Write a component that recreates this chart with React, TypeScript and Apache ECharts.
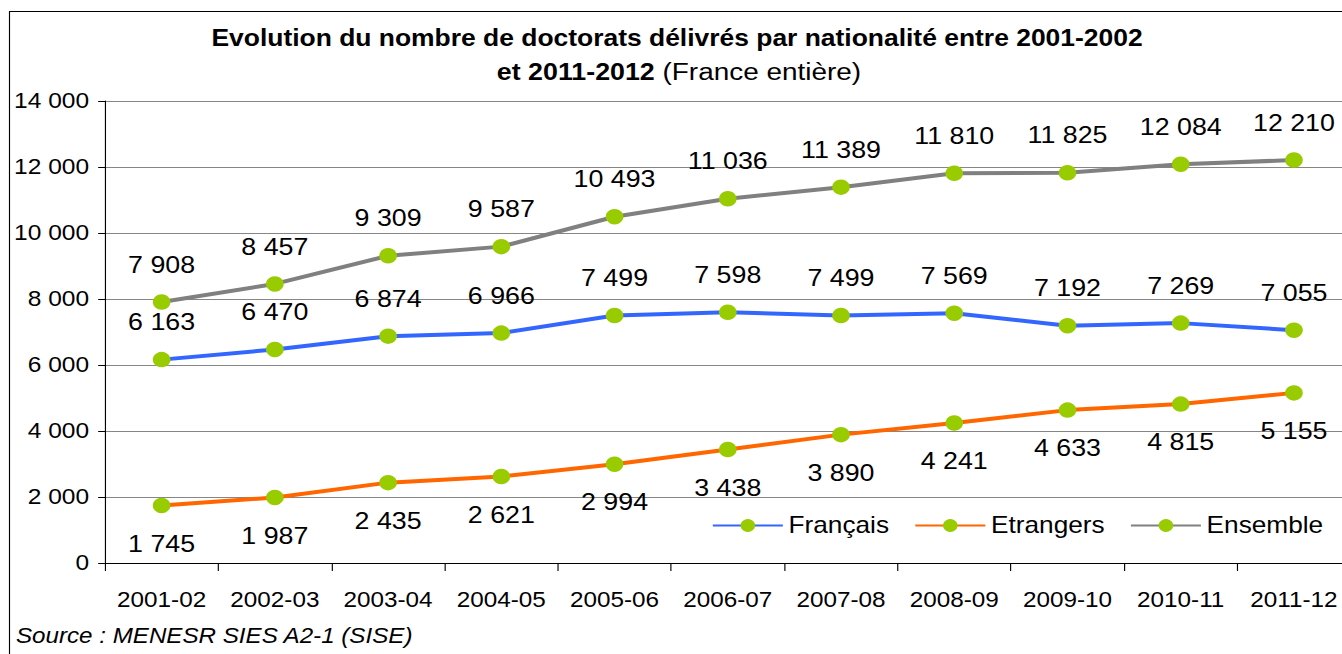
import React, { useEffect, useRef } from "react";
import * as echarts from "echarts";

const categories = ["2001-02", "2002-03", "2003-04", "2004-05", "2005-06", "2006-07", "2007-08", "2008-09", "2009-10", "2010-11", "2011-12"];
const francais = [6163, 6470, 6874, 6966, 7499, 7598, 7499, 7569, 7192, 7269, 7055];
const etrangers = [1745, 1987, 2435, 2621, 2994, 3438, 3890, 4241, 4633, 4815, 5155];
const ensemble = [7908, 8457, 9309, 9587, 10493, 11036, 11389, 11810, 11825, 12084, 12210];
const yTicks = [0, 2000, 4000, 6000, 8000, 10000, 12000, 14000];

const fmt = (v: number) => String(v).replace(/\B(?=(\d{3})+(?!\d))/g, " ");
const FONT = "'Liberation Sans', Arial, sans-serif";
const MARK = "#99CC00";
// the reference is stretched horizontally; render narrower and stretch with CSS
const S = 1.14;
const X = (px: number) => px / S;
const W = X(1372); // chart is slightly wider than the page; the plot runs past the right edge

export default function App() {
  const ref = useRef<HTMLDivElement>(null);
  useEffect(() => {
    const chart = echarts.init(ref.current!, null, { renderer: "svg" });
    const mkSeries = (name: string, data: number[], color: string, pos: "top" | "bottom") => ({
      name,
      type: "line",
      data,
      symbol: "circle",
      symbolSize: 15.5,
      itemStyle: { color: MARK, borderWidth: 0 },
      lineStyle: { color, width: 4 },
      label: {
        show: true,
        position: pos,
        distance: 18,
        fontSize: 23.5,
        fontFamily: FONT,
        color: "#000",
        formatter: (p: any) => fmt(p.value),
      },
    });
    chart.setOption({
      animation: false,
      textStyle: { fontFamily: FONT },
      grid: { left: X(105), right: W - X(1350), top: 101, bottom: 91 },
      graphic: [
        {
          type: "rect",
          shape: { x: X(9.5), y: 11.5, width: 1400, height: 700 },
          style: { fill: "none", stroke: "#000", lineWidth: 1 },
          z: -10,
        },
        {
          type: "text",
          x: X(677),
          y: 38,
          style: {
            text: "Evolution du nombre de doctorats délivrés par nationalité entre 2001-2002",
            font: `bold 23.2px ${FONT}`,
            fill: "#000",
            align: "center",
            verticalAlign: "middle",
          },
        },
        {
          type: "text",
          x: X(679),
          y: 72,
          style: {
            text: "{b|et 2011-2012}{n| (France entière)}",
            align: "center",
            verticalAlign: "middle",
            rich: {
              b: { font: `bold 23.5px ${FONT}`, fill: "#000" },
              n: { font: `24.5px ${FONT}`, fill: "#000" },
            },
          },
        },
        {
          type: "text",
          x: X(16),
          y: 636,
          style: {
            text: "Source : MENESR SIES A2-1 (SISE)",
            font: `italic 21.2px ${FONT}`,
            fill: "#000",
            align: "left",
            verticalAlign: "middle",
          },
        },
      ],
      legend: {
        left: X(706),
        top: 509,
        itemWidth: X(70),
        itemHeight: 16,
        itemGap: 22,
        textStyle: { fontSize: 23, fontFamily: FONT, color: "#000" },
        data: ["Français", "Etrangers", "Ensemble"],
      },
      xAxis: {
        type: "category",
        data: categories,
        boundaryGap: true,
        axisLine: { lineStyle: { color: "#000", width: 1 } },
        axisTick: { show: true, interval: 0, length: 8, alignWithLabel: false, lineStyle: { color: "#000" } },
        axisLabel: { interval: 0, fontSize: 21.3, fontFamily: FONT, color: "#000", margin: 26 },
      },
      yAxis: {
        type: "value",
        min: yTicks[0],
        max: yTicks[yTicks.length - 1],
        interval: 2000,
        axisLine: { show: true, lineStyle: { color: "#000", width: 1 } },
        axisTick: { show: true, length: 6, lineStyle: { color: "#000" } },
        axisLabel: { fontSize: 21.5, fontFamily: FONT, color: "#000", margin: 14, formatter: (v: number) => fmt(v) },
        splitLine: { show: true, lineStyle: { color: "#868686", width: 1 } },
      },
      series: [
        mkSeries("Français", francais, "#3366FF", "top"),
        mkSeries("Etrangers", etrangers, "#FF6600", "bottom"),
        mkSeries("Ensemble", ensemble, "#808080", "top"),
      ],
    });
    return () => chart.dispose();
  }, []);
  return (
    <div style={{ position: "absolute", left: 0, top: 0, width: 1342, height: 654, overflow: "hidden", background: "#fff" }}>
      <div
        ref={ref}
        style={{ width: W, height: 654, transform: `scaleX(${S})`, transformOrigin: "0 0" }}
      />
    </div>
  );
}
